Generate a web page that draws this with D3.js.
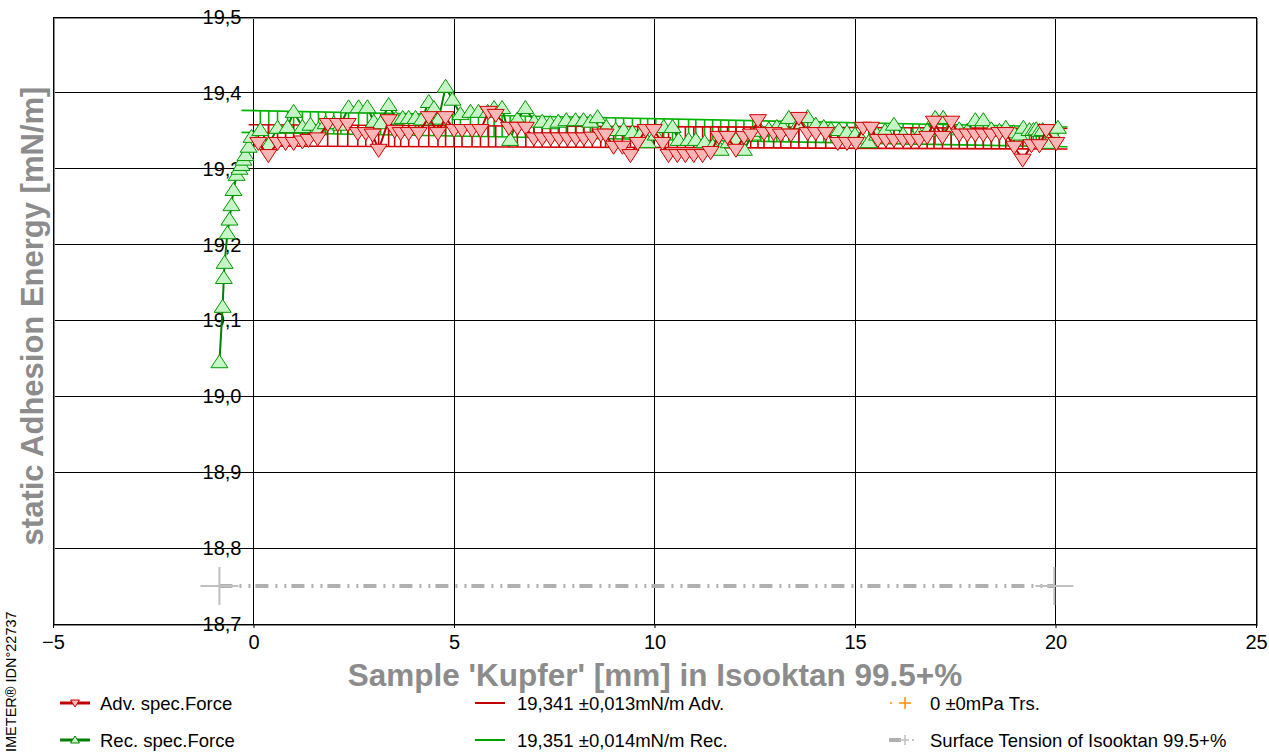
<!DOCTYPE html>
<html>
<head>
<meta charset="utf-8">
<script src="https://cdn.jsdelivr.net/npm/d3@7"></script>
<style>
  html, body { margin: 0; padding: 0; background: #fff; }
  svg { display: block; font-family: "Liberation Sans", Arial, sans-serif; }
</style>
</head>
<body>
<div id="chart"></div>
<script>
/* static adhesion energy vs. sample position, advancing / receding curves
   with their mean +- sd bands and the surface tension reference line */

var xTicks = [-5, 0, 5, 10, 15, 20, 25];
var yTicks = [18.7, 18.8, 18.9, 19.0, 19.1, 19.2, 19.3, 19.4, 19.5];
var xGrid = [0, 5, 10, 15, 20];

// Rec. spec.Force (green, up triangles)
var recX = [-0.85, -0.77, -0.74, -0.72, -0.65, -0.60, -0.55, -0.50, -0.42, -0.35,
  -0.30, -0.25, -0.20, -0.12, -0.05, 0.17, 0.38, 0.60, 0.85, 1.00,
  1.22, 1.42, 1.62, 1.80, 2.00, 2.18, 2.37, 2.62, 2.84, 3.00,
  3.17, 3.37, 3.55, 3.72, 3.87, 4.04, 4.20, 4.37, 4.50, 4.62,
  4.79, 4.96, 5.16, 5.41, 5.61, 5.84, 6.00, 6.20, 6.40, 6.58,
  6.78, 7.00, 7.20, 7.40, 7.60, 7.80, 8.03, 8.23, 8.40, 8.58,
  8.80, 9.03, 9.23, 9.45, 9.65, 9.83, 10.03, 10.23, 10.45, 10.60,
  10.85, 11.03, 11.25, 11.45, 11.65, 11.85, 12.03, 12.23, 12.45, 12.65,
  12.85, 13.05, 13.20, 13.35, 13.60, 13.82, 14.02, 14.22, 14.40, 14.60,
  14.80, 15.00, 15.15, 15.34, 15.55, 15.75, 15.97, 16.20, 16.44, 16.60,
  16.80, 17.00, 17.20, 17.40, 17.60, 17.80, 18.00, 18.20, 18.40, 18.60,
  18.76, 18.95, 19.10, 19.20, 19.35, 19.45, 19.52, 19.60, 19.68, 19.80,
  19.90, 20.06];
var recY = [19.045, 19.118, 19.156, 19.176, 19.215, 19.233, 19.252, 19.272, 19.292, 19.300,
  19.305, 19.312, 19.318, 19.329, 19.342, 19.351, 19.332, 19.354, 19.355, 19.375,
  19.355, 19.358, 19.352, 19.360, 19.360, 19.358, 19.381, 19.381, 19.381, 19.362,
  19.360, 19.384, 19.366, 19.367, 19.367, 19.367, 19.365, 19.388, 19.380, 19.366,
  19.408, 19.391, 19.372, 19.375, 19.375, 19.375, 19.380, 19.380, 19.338, 19.365,
  19.380, 19.362, 19.362, 19.360, 19.362, 19.364, 19.364, 19.364, 19.362, 19.368,
  19.355, 19.351, 19.351, 19.348, 19.345, 19.335, 19.345, 19.355, 19.355, 19.338,
  19.338, 19.338, 19.335, 19.330, 19.325, 19.335, 19.338, 19.325, 19.345, 19.350,
  19.352, 19.355, 19.355, 19.367, 19.360, 19.368, 19.358, 19.355, 19.352, 19.351,
  19.348, 19.345, 19.340, 19.335, 19.345, 19.350, 19.358, 19.345, 19.340, 19.345,
  19.350, 19.367, 19.367, 19.355, 19.352, 19.350, 19.364, 19.364, 19.352, 19.350,
  19.354, 19.348, 19.345, 19.354, 19.351, 19.351, 19.352, 19.350, 19.351, 19.334,
  19.348, 19.354];

// Adv. spec.Force (red, down triangles)
var advX = [0.12, 0.37, 0.60, 0.80, 1.00, 1.22, 1.37, 1.60, 1.85, 2.10,
  2.35, 2.60, 2.80, 2.97, 3.12, 3.37, 3.52, 3.67, 3.87, 4.12,
  4.37, 4.60, 4.79, 5.00, 5.20, 5.45, 5.66, 5.86, 6.04, 6.37,
  6.58, 6.79, 6.99, 7.20, 7.41, 7.62, 7.83, 8.04, 8.24, 8.45,
  8.66, 8.78, 8.98, 9.20, 9.40, 9.58, 9.78, 9.98, 10.20, 10.35,
  10.57, 10.77, 10.98, 11.20, 11.40, 11.60, 11.82, 12.03, 12.23, 12.40,
  12.58, 12.73, 12.97, 13.15, 13.40, 13.60, 13.82, 14.02, 14.27, 14.57,
  14.80, 15.02, 15.20, 15.40, 15.57, 15.77, 15.97, 16.20, 16.40, 16.60,
  16.80, 16.97, 17.18, 17.40, 17.60, 17.80, 18.00, 18.20, 18.40, 18.60,
  18.76, 18.97, 19.18, 19.40, 19.60, 19.77, 20.02];
var advY = [19.334, 19.318, 19.334, 19.334, 19.334, 19.336, 19.338, 19.340, 19.359, 19.359,
  19.359, 19.347, 19.347, 19.345, 19.325, 19.364, 19.350, 19.347, 19.347, 19.347,
  19.368, 19.347, 19.368, 19.351, 19.351, 19.351, 19.351, 19.375, 19.371, 19.354,
  19.354, 19.354, 19.340, 19.340, 19.340, 19.340, 19.340, 19.340, 19.340, 19.341,
  19.345, 19.345, 19.329, 19.329, 19.318, 19.334, 19.351, 19.351, 19.334, 19.318,
  19.318, 19.318, 19.318, 19.318, 19.322, 19.342, 19.342, 19.325, 19.342, 19.345,
  19.364, 19.347, 19.347, 19.345, 19.345, 19.367, 19.347, 19.347, 19.347, 19.334,
  19.334, 19.334, 19.354, 19.354, 19.338, 19.338, 19.338, 19.338, 19.338, 19.338,
  19.342, 19.362, 19.342, 19.362, 19.345, 19.345, 19.345, 19.345, 19.345, 19.347,
  19.347, 19.329, 19.312, 19.331, 19.331, 19.351, 19.334];

// mean +- sd bands (end points of the fitted lines)
var advBandX = [-0.12, 20.3];
var advBandTop = [19.358, 19.353];
var advBandBot = [19.330, 19.326];
var recBandX = [-0.3, 20.3];
var recBandTop = [19.377, 19.355];
var recBandBot = [19.348, 19.329];

// surface tension of the liquid
var stX = [-0.85, 19.97];
var stY = [18.75, 18.75];

var W = 1269, H = 753;
var svg = d3.select("#chart").append("svg")
  .attr("width", W).attr("height", H).attr("viewBox", "0 0 " + W + " " + H);

var x = d3.scaleLinear().domain([-5, 25]).range([53, 1256]);
var y = d3.scaleLinear().domain([18.7, 19.5]).range([624, 17]);

// grid
var grid = svg.append("g").attr("stroke", "#000").attr("stroke-width", 1)
  .attr("shape-rendering", "crispEdges");
grid.selectAll("line.h").data(yTicks).join("line").attr("class", "h")
  .attr("x1", x(-5)).attr("x2", x(25))
  .attr("y1", function (d) { return y(d); }).attr("y2", function (d) { return y(d); });
grid.selectAll("line.v").data(xGrid).join("line").attr("class", "v")
  .attr("y1", y(19.5)).attr("y2", y(18.7))
  .attr("x1", function (d) { return x(d); }).attr("x2", function (d) { return x(d); });

// frame: shadow then black
svg.append("rect").attr("x", x(-5) + 1).attr("y", y(19.5) + 1)
  .attr("width", x(25) - x(-5)).attr("height", y(18.7) - y(19.5))
  .attr("fill", "none").attr("stroke", "#888").attr("stroke-width", 1)
  .attr("shape-rendering", "crispEdges");
svg.append("rect").attr("x", x(-5)).attr("y", y(19.5))
  .attr("width", x(25) - x(-5)).attr("height", y(18.7) - y(19.5))
  .attr("fill", "none").attr("stroke", "#000").attr("stroke-width", 1)
  .attr("shape-rendering", "crispEdges");

// axes (tick labels only; y labels sit left of x = 0 like the original)
var xAxis = d3.axisBottom(x).tickValues(xTicks).tickSize(4).tickFormat(d3.format("d"));
var gx = svg.append("g").attr("transform", "translate(0," + y(18.7) + ")").call(xAxis);
gx.select(".domain").remove();
gx.selectAll("text").attr("font-size", "20px").attr("fill", "#000")
  .attr("font-family", "Liberation Sans, Arial, sans-serif").attr("dy", "0.9em");
gx.selectAll(".tick line").attr("stroke", "#000");

var fmtY = function (d) { return d3.format(".1f")(d).replace(".", ","); };
var yAxis = d3.axisLeft(y).tickValues(yTicks).tickSize(0).tickPadding(0).tickFormat(fmtY);
var gy = svg.append("g").attr("transform", "translate(" + (x(0) - 12) + ",0)").call(yAxis);
gy.select(".domain").remove();
gy.selectAll("text").attr("font-size", "20px").attr("fill", "#000")
  .attr("font-family", "Liberation Sans, Arial, sans-serif");

// surface tension line
var stPts = d3.zip(stX, stY);
svg.append("path").datum(stPts)
  .attr("d", d3.line().x(function (d) { return x(d[0]); }).y(function (d) { return y(d[1]); }))
  .attr("fill", "none").attr("stroke", "#b0b0b0").attr("stroke-width", 4)
  .attr("stroke-dasharray", "13,7,2,7,2,5");
svg.append("g").selectAll("path").data(stPts).join("path")
  .attr("transform", function (d) { return "translate(" + x(d[0]) + "," + y(d[1]) + ")"; })
  .attr("d", "M-19,0H19M0,-19V19")
  .attr("stroke", "#c0c0c0").attr("stroke-width", 2).attr("fill", "none");

// bands with rungs at the measured positions
function band(bx, top, bot, px, color) {
  var g = svg.append("g").attr("stroke", color).attr("stroke-width", 1.6).attr("fill", "none");
  var tY = d3.scaleLinear().domain(bx).range(top);
  var bY = d3.scaleLinear().domain(bx).range(bot);
  g.append("line").attr("x1", x(bx[0])).attr("x2", x(bx[1]))
    .attr("y1", y(top[0])).attr("y2", y(top[1]));
  g.append("line").attr("x1", x(bx[0])).attr("x2", x(bx[1]))
    .attr("y1", y(bot[0])).attr("y2", y(bot[1]));
  g.selectAll("line.r").data(px.filter(function (d) { return d > 0.1 && d <= bx[1]; }))
    .join("line").attr("class", "r")
    .attr("x1", function (d) { return x(d); }).attr("x2", function (d) { return x(d); })
    .attr("y1", function (d) { return y(tY(d)); }).attr("y2", function (d) { return y(bY(d)); });
}
band(recBandX, recBandTop, recBandBot, recX, "#00b400");
band(advBandX, advBandTop, advBandBot, advX, "#d00000");

// series
var line = d3.line().x(function (d) { return x(d[0]); }).y(function (d) { return y(d[1]); });
var tri = "M0,-7.5L8.5,5.5L-8.5,5.5Z";

function series(px, py, lineColor, fill, stroke, rot) {
  var pts = d3.zip(px, py);
  svg.append("path").datum(pts).attr("d", line)
    .attr("fill", "none").attr("stroke", lineColor).attr("stroke-width", 2);
  svg.append("g").selectAll("path").data(pts).join("path")
    .attr("transform", function (d) {
      return "translate(" + x(d[0]) + "," + y(d[1]) + ") rotate(" + rot + ")";
    })
    .attr("d", tri).attr("fill", fill).attr("stroke", stroke).attr("stroke-width", 1);
}
series(recX, recY, "#008000", "#c6f5c6", "#009a00", 0);
series(advX, advY, "#c00000", "#ffb6b6", "#d00000", 180);

// axis titles
svg.append("text").attr("x", 655).attr("y", 686).attr("text-anchor", "middle")
  .attr("font-size", "31.5px").attr("font-weight", "bold").attr("fill", "#8c8c8c")
  .text("Sample 'Kupfer' [mm] in Isooktan 99.5+%");
svg.append("text").attr("transform", "translate(43,316) rotate(-90)")
  .attr("text-anchor", "middle").attr("font-size", "31px").attr("font-weight", "bold")
  .attr("fill", "#8c8c8c").text("static Adhesion Energy [mN/m]");
svg.append("text").attr("transform", "translate(16,752) rotate(-90)")
  .attr("font-size", "14.5px").attr("fill", "#000").text("IMETER\u00ae IDN\u00b022737");

// legend
var leg = svg.append("g").attr("font-size", "18.5px").attr("fill", "#000");
function legText(lx, ly, t) {
  leg.append("text").attr("x", lx).attr("y", ly).attr("dy", "0.4em").text(t);
}
function legSeries(lx, ly, color, fill, rot) {
  leg.append("line").attr("x1", lx).attr("x2", lx + 30).attr("y1", ly).attr("y2", ly)
    .attr("stroke", color).attr("stroke-width", 3);
  leg.append("path").attr("transform", "translate(" + (lx + 15) + "," + ly + ") rotate(" + rot + ")")
    .attr("d", "M0,-4L4.5,3L-4.5,3Z")
    .attr("fill", fill).attr("stroke", color).attr("stroke-width", 1);
}
legSeries(60, 703, "#c00000", "#ffb6b6", 180);
legText(100, 703, "Adv. spec.Force");
legSeries(60, 740, "#008000", "#c6f5c6", 0);
legText(100, 740, "Rec. spec.Force");

leg.append("line").attr("x1", 475).attr("x2", 505).attr("y1", 703).attr("y2", 703)
  .attr("stroke", "#c00000").attr("stroke-width", 2);
legText(517, 703, "19,341 \u00b10,013mN/m Adv.");
leg.append("line").attr("x1", 475).attr("x2", 505).attr("y1", 740).attr("y2", 740)
  .attr("stroke", "#00a000").attr("stroke-width", 2);
legText(517, 740, "19,351 \u00b10,014mN/m Rec.");

leg.append("circle").attr("cx", 891).attr("cy", 703).attr("r", 1).attr("fill", "#ff8c00");
leg.append("path").attr("d", "M899,703H911M905,697V709")
  .attr("stroke", "#ff8c00").attr("stroke-width", 1.5);
legText(930, 703, "0 \u00b10mPa Trs.");
leg.append("line").attr("x1", 889).attr("x2", 901).attr("y1", 740).attr("y2", 740)
  .attr("stroke", "#b0b0b0").attr("stroke-width", 4);
leg.append("path").attr("d", "M899,740H909M905,735V745")
  .attr("stroke", "#c0c0c0").attr("stroke-width", 1.5);
leg.append("circle").attr("cx", 913).attr("cy", 740).attr("r", 1).attr("fill", "#b0b0b0");
legText(930, 740, "Surface Tension of Isooktan 99.5+%");
</script>
</body>
</html>
